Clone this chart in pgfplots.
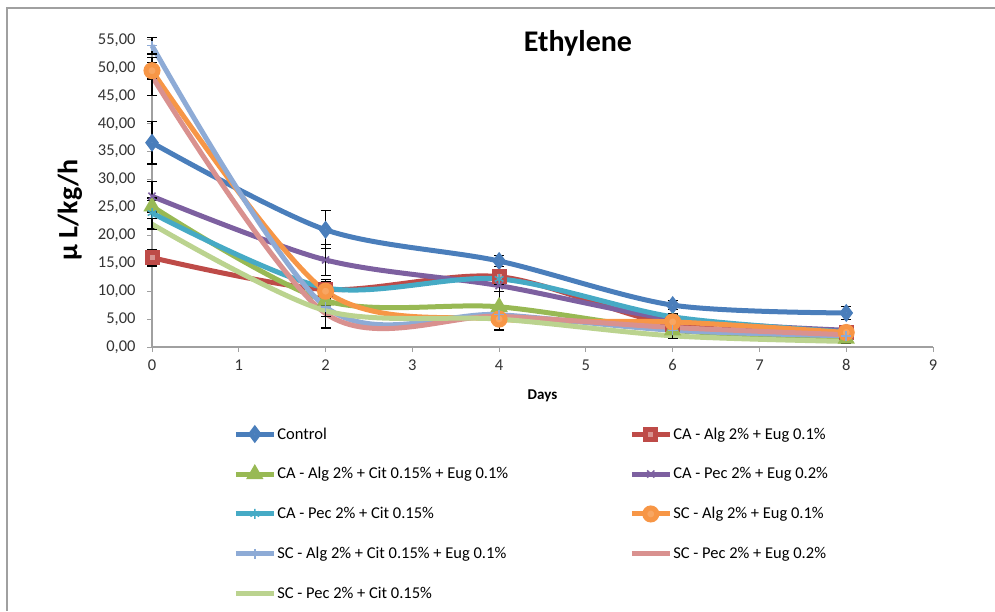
\documentclass[border=0pt]{standalone}
\usepackage{pgfplots}
\pgfplotsset{compat=1.18}
\usepackage{fontspec}
\setmainfont{Carlito}
\definecolor{cCtrl}{HTML}{4A7EBB}
\definecolor{cRed}{HTML}{BE4B48}
\definecolor{cGreen}{HTML}{98B954}
\definecolor{cPurple}{HTML}{7D60A0}
\definecolor{cTeal}{HTML}{46AAC5}
\definecolor{cOrange}{HTML}{F79646}
\definecolor{cLBlue}{HTML}{8EABD6}
\definecolor{cPink}{HTML}{D9918F}
\definecolor{cLGreen}{HTML}{BBD38F}
\definecolor{axgray}{HTML}{A0A0A0}
\begin{document}
\begin{tikzpicture}[x=1pt,y=1pt]
\draw[axgray, line width=1.5pt] (7,0) -- (7,603) -- (995,603);
\node[font=\fontsize{30}{34}\selectfont\bfseries] at (578,568) {Ethylene};
\node[font=\fontsize{28}{32}\selectfont\bfseries, rotate=90] at (70,401) {µ L/kg/h};
\begin{axis}[
  at={(152pt,264pt)}, anchor=south west,
  scale only axis, width=781pt, height=307pt,
  xmin=0, xmax=9, ymin=0, ymax=55,
  axis x line=bottom, axis y line=left,
  axis line style={axgray, line width=1.2pt, -},
  xtick={0,1,...,9}, ytick={0,5,...,55},
  tick style={axgray, line width=1pt},
  major tick length=5pt, tick align=outside,
  ticklabel style={font=\fontsize{16.5}{19}\selectfont, text=black!80},
  /pgf/number format/assume math mode=true,
  yticklabel={\pgfmathprintnumber[fixed, fixed zerofill, precision=2, use comma]{\tick}},
  xticklabel={\pgfmathprintnumber{\tick}},
  xticklabel style={yshift=-4pt},
  yticklabel style={xshift=-8pt},
  xlabel={\bfseries Days},
  xlabel style={font=\fontsize{15}{18}\selectfont, yshift=-12pt},
  every axis plot/.append style={line width=5pt, smooth, mark size=5pt,
     mark options={solid, line width=1pt}},
  error bars/y dir=both, error bars/y explicit,
  error bars/error bar style={black, line width=1.2pt},
  error bars/error mark options={rotate=90, mark size=5pt, line width=1.2pt, black},
  legend columns=2,
  legend cell align=left,
  legend style={draw=none, fill=none, at={(0.1,-0.252)}, anchor=north west,
    font=\fontsize{16.5}{19}\selectfont, row sep=25pt,
    /tikz/column 2/.style={column sep=120pt},
    nodes={inner sep=1pt}},
  legend image code/.code={\draw[mark repeat=2, mark phase=2, line width=5pt] plot coordinates {(0pt,0pt) (19pt,0pt) (38pt,0pt)};},
  clip=false
]
\addplot[cCtrl, mark=diamond*, mark options={fill=cCtrl!80!white, draw=cCtrl}] coordinates {
 (0,36.6) +- (0,3.8) (2,21.0) +- (0,3.4) (4,15.4) +- (0,1.0) (6,7.5) +- (0,0.8) (8,6.1) +- (0,1.2)};
\addlegendentry{Control}
\addplot[cRed, mark=square*, mark options={fill=cRed!60!white, draw=cRed}] coordinates {
 (0,16.0) +- (0,1.5) (2,10.3) +- (0,1.5) (4,12.6) +- (0,1.0) (6,4.0) +- (0,0.5) (8,2.6) +- (0,0.5)};
\addlegendentry{CA - Alg 2\% + Eug 0.1\%}
\addplot[cGreen, mark=triangle*, mark options={fill=cGreen!80!white, draw=cGreen}] coordinates {
 (0,25.2) +- (0,1.0) (2,8.3) +- (0,1.0) (4,7.2) +- (0,4.2) (6,3.0) +- (0,0.5) (8,1.5) +- (0,0.5)};
\addlegendentry{CA - Alg 2\% + Cit 0.15\% + Eug 0.1\%}
\addplot[cPurple, mark=x, mark options={draw=cPurple, line width=1.5pt}] coordinates {
 (0,27.0) +- (0,2.6) (2,15.6) +- (0,2.8) (4,11.0) +- (0,1.0) (6,5.0) +- (0,0.5) (8,3.0) +- (0,0.5)};
\addlegendentry{CA - Pec 2\% + Eug 0.2\%}
\addplot[cTeal, mark=asterisk, mark options={draw=cTeal, line width=1.5pt}] coordinates {
 (0,24.0) +- (0,2.7) (2,10.6) +- (0,1.5) (4,12.2) +- (0,1.0) (6,5.4) +- (0,0.5) (8,2.7) +- (0,0.4)};
\addlegendentry{CA - Pec 2\% + Cit 0.15\%}
\addplot[cOrange, mark=*, mark size=6pt, mark options={fill=cOrange!85!white, draw=cOrange}] coordinates {
 (0,49.5) +- (0,1.5) (2,10.0) +- (0,0.8) (4,5.0) +- (0,1.8) (6,4.5) +- (0,0.5) (8,2.6) +- (0,0.5)};
\addlegendentry{SC - Alg 2\% + Eug 0.1\%}
\addplot[cLBlue, mark=+, mark options={draw=cLBlue, line width=1.5pt}] coordinates {
 (0,54.0) +- (0,1.5) (2,7.2) +- (0,1.8) (4,5.8) +- (0,0.5) (6,3.0) +- (0,0.5) (8,2.0) +- (0,0.5)};
\addlegendentry{SC - Alg 2\% + Cit 0.15\% + Eug 0.1\%}
\addplot[cPink, mark=none] coordinates {
 (0,48.5) +- (0,3.4) (2,6.0) +- (0,2.6) (4,5.5) +- (0,0.5) (6,3.5) +- (0,0.5) (8,2.2) +- (0,0.3)};
\addlegendentry{SC - Pec 2\% + Eug 0.2\%}
\addplot[cLGreen, mark=none] coordinates {
 (0,22.0) +- (0,1.0) (2,6.5) +- (0,1.0) (4,5.0) +- (0,0.5) (6,2.0) +- (0,0.5) (8,1.0) +- (0,0.3)};
\addlegendentry{SC - Pec 2\% + Cit 0.15\%}
\end{axis}
\pgfresetboundingbox
\path[use as bounding box] (0,0) rectangle (995,611);
\end{tikzpicture}
\end{document}
